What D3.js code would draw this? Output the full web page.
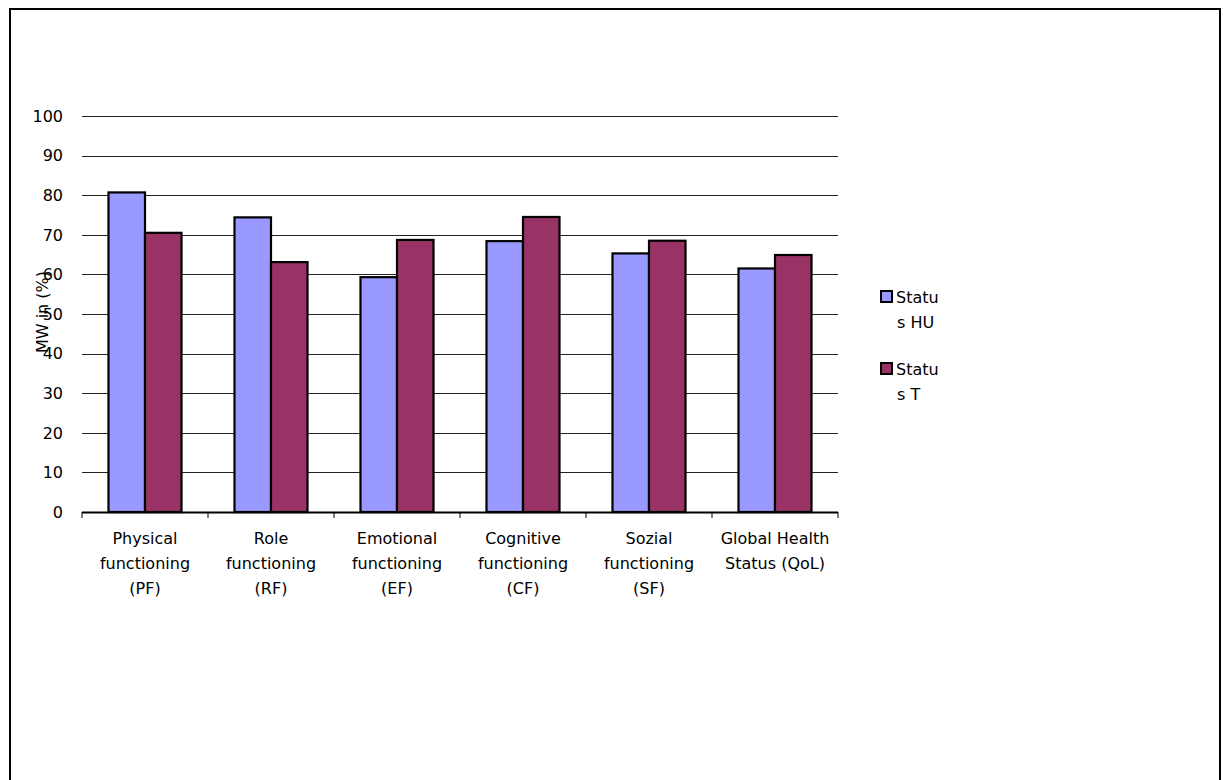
<!DOCTYPE html>
<html><head><meta charset="utf-8">
<script src="https://cdn.jsdelivr.net/npm/d3@7"></script>
<style>body{margin:0;background:#fff}svg{display:block}text{font-family:"DejaVu Sans",sans-serif;fill:#000}</style>
</head><body>
<svg id="c" width="1223" height="780"></svg>
<script>
const categories = [
  ["Physical","functioning","(PF)"],
  ["Role","functioning","(RF)"],
  ["Emotional","functioning","(EF)"],
  ["Cognitive","functioning","(CF)"],
  ["Sozial","functioning","(SF)"],
  ["Global Health","Status (QoL)"]
];
const seriesNames = ["Status HU","Status T"];
const legendLines = [["Statu","s HU"],["Statu","s T"]];
const statusHU = [80.7, 74.4, 59.3, 68.4, 65.3, 61.5];
const statusT  = [70.5, 63.1, 68.7, 74.5, 68.5, 64.9];
const yTicks = [0,10,20,30,40,50,60,70,80,90,100];
const colors = ["#9999FF","#993366"];

const svg = d3.select("#c");
svg.append("rect").attr("x",10).attr("y",9).attr("width",1210).attr("height",800)
  .attr("fill","none").attr("stroke","#000").attr("stroke-width",2);

const L=82,R=838,T=116,B=512;
const FS = 16;
const idx = categories.map((d,i)=>i);
const x = d3.scaleBand().domain(idx).range([L,R]).paddingInner(0).paddingOuter(0);
const y = d3.scaleLinear().domain([0,100]).range([B,T]);
const gw = 73;
const xs = d3.scaleBand().domain([0,1]).range([0,gw]);

// gridlines
svg.append("g").selectAll("line").data(yTicks.filter(t=>t>0)).join("line")
  .attr("x1",L).attr("x2",R).attr("y1",d=>Math.round(y(d))+0.5).attr("y2",d=>Math.round(y(d))+0.5)
  .attr("stroke","#222").attr("stroke-width",1);

// y tick labels
svg.append("g").selectAll("text").data(yTicks).join("text")
  .attr("x",63).attr("y",d=>y(d)).attr("dy","0.36em").attr("text-anchor","end")
  .attr("font-size",FS).text(d=>d);

// bars
const data = [statusHU, statusT];
const g = svg.append("g");
data.forEach((vals,s)=>{
  g.selectAll(".b"+s).data(vals).join("rect")
    .attr("x",(d,i)=>x(i)+(x.bandwidth()-gw)/2+xs(s))
    .attr("y",d=>y(d)).attr("width",xs.bandwidth()).attr("height",d=>B-y(d))
    .attr("fill",colors[s]).attr("stroke","#000").attr("stroke-width",2.2);
});

// x axis
const xa = svg.append("g");
xa.append("line").attr("x1",L).attr("x2",R).attr("y1",B+0.5).attr("y2",B+0.5).attr("stroke","#000").attr("stroke-width",2);
xa.selectAll(".tk").data(d3.range(categories.length+1)).join("line")
  .attr("x1",i=>L+i*x.bandwidth()).attr("x2",i=>L+i*x.bandwidth())
  .attr("y1",B).attr("y2",B+6).attr("stroke","#000").attr("stroke-width",1);
categories.forEach((lines,i)=>{
  const t = xa.append("text").attr("text-anchor","middle").attr("font-size",FS);
  lines.forEach((ln,k)=>{
    t.append("tspan").attr("x",x(i)+x.bandwidth()/2).attr("y",538+k*25).attr("dy","0.36em").text(ln);
  });
});

// y title
svg.append("text").attr("transform","translate(42,312) rotate(-90)")
  .attr("text-anchor","middle").attr("dy","0.36em").attr("font-size",FS).text("MW in (%)");

// legend
legendLines.forEach((lines,s)=>{
  const cy = 297 + s*72;
  svg.append("rect").attr("x",881).attr("y",cy-6).attr("width",11).attr("height",11)
    .attr("fill",colors[s]).attr("stroke","#000").attr("stroke-width",2);
  lines.forEach((ln,k)=>{
    svg.append("text").attr("x",k===0?896:897).attr("y",cy+k*25).attr("dy","0.36em")
      .attr("font-size",FS).text(ln);
  });
});
</script>
</body></html>
